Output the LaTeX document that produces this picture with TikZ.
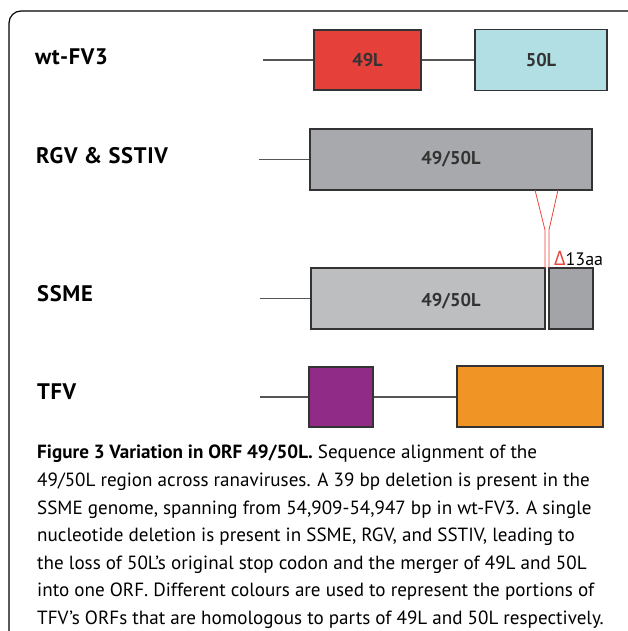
\documentclass[tikz,border=0pt]{standalone}
\usepackage{fontspec}
\setmainfont{PT Sans}
\newfontfamily\greekfont{Open Sans}
\definecolor{redorf}{HTML}{E5403A}
\definecolor{blueorf}{HTML}{B1DFE4}
\definecolor{greyorf}{HTML}{A7A9AC}
\definecolor{lightorf}{HTML}{BCBEC0}
\definecolor{darkorf}{HTML}{A2A4A7}
\definecolor{purpleorf}{HTML}{912B88}
\definecolor{orangeorf}{HTML}{F09425}
\definecolor{boxline}{HTML}{333333}
\definecolor{linkgrey}{HTML}{555555}
\definecolor{delred}{HTML}{E8443A}
\begin{document}
\begin{tikzpicture}[x=1pt, y=-1pt,
    orf/.style={draw=boxline, line width=1.3pt, inner sep=0pt, text=boxline,
        font=\bfseries\fontsize{18.5}{18.5}\selectfont},
    orftext/.style={inner sep=0pt, text=boxline, font=\bfseries\fontsize{18.5}{18.5}\selectfont},
    strain/.style={anchor=base west, inner sep=0pt,
        font=\bfseries\fontsize{22.5}{22.5}\selectfont\addfontfeature{LetterSpace=3}},
    link/.style={draw=linkgrey, line width=1.3pt},
    del/.style={draw=delred, line width=0.8pt}]
        \useasboundingbox (0, 0) rectangle (627, 631);
        \draw [black, line width=1.2pt, rounded corners=12pt] (9, 640) -- (9, 11) -- (640, 11);

        \node [strain] at (35, 65) (wt) {wt-FV3};
        \node [strain] at (36, 164) (rgv) {RGV \& SSTIV};
        \node [strain] at (37, 301) (ssme) {SSME};
        \node [strain] at (37, 399) (tfv) {TFV};

        \node [orf, fill=redorf, minimum width=107pt, minimum height=60pt] at (367.5, 60) (o49) {49L};
        \node [orf, fill=blueorf, minimum width=132pt, minimum height=61pt] at (541, 60) (o50) {50L};
        \node [orf, fill=greyorf, minimum width=282pt, minimum height=61pt] at (451, 159.5) (rgvorf) {49/50L};
        \node [orf, fill=lightorf, minimum width=234pt, minimum height=61pt] at (428, 298.5) (ssmeorf) {};
        \node [orf, fill=darkorf, minimum width=44pt, minimum height=61pt] at (571, 298.5) (ssmetail) {};
        \node [orftext] at (451, 301) (ssmelab) {49/50L};
        \node [orf, fill=purpleorf, minimum width=64pt, minimum height=60pt] at (341, 397) (tfva) {};
        \node [orf, fill=orangeorf, minimum width=146pt, minimum height=61pt] at (530, 396.5) (tfvb) {};

        \coordinate (wtstart) at (263, 60);
        \coordinate (rgvstart) at (259, 159.5);
        \coordinate (ssmestart) at (260, 298.5);
        \coordinate (tfvstart) at (260, 397);

        \draw [link] (wtstart) -- (o49.west);
        \draw [link] (o49.east) -- (o50.west);
        \draw [link] (rgvstart) -- (rgvorf.west);
        \draw [link] (ssmestart) -- (ssmeorf.west);
        \draw [link] (tfvstart) -- (tfva.west);
        \draw [link] (tfva.east) -- (tfvb.west |- tfva.east);

        \coordinate (vl) at (535, 190);
        \coordinate (vr) at (558, 190);
        \draw [del] (vl) -- (545, 230) -- (545, 268);
        \draw [del] (vr) -- (549, 230) -- (549, 268);
        \node [anchor=base west, inner sep=0pt, font=\fontsize{18}{18}\selectfont] at (554, 265) (gap)
            {\textcolor{delred}{\greekfont\fontsize{20}{20}\selectfont Δ}13aa};

        \node [anchor=north west, inner sep=0pt, align=left, font=\fontsize{19.1}{27.6}\selectfont] at (37, 445) (cap)
            {\textbf{Figure 3 Variation in ORF 49/50L.} Sequence alignment of the\\
             49/50L region across ranaviruses. A 39 bp deletion is present in the\\
             SSME genome, spanning from 54,909-54,947 bp in wt-FV3. A single\\
             nucleotide deletion is present in SSME, RGV, and SSTIV, leading to\\
             the loss of 50L’s original stop codon and the merger of 49L and 50L\\
             into one ORF. Different colours are used to represent the portions of\\
             TFV’s ORFs that are homologous to parts of 49L and 50L respectively.};
\end{tikzpicture}
\end{document}
